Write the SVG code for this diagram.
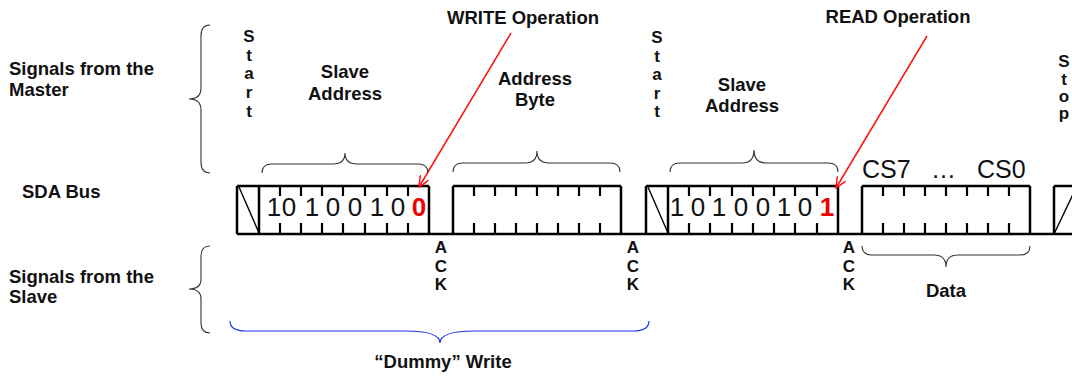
<svg xmlns="http://www.w3.org/2000/svg" width="1072" height="376" viewBox="0 0 1072 376">
<defs>
<style>
.lbl{font-family:"Liberation Sans",Arial,sans-serif;font-weight:bold;font-size:18.5px;fill:#111}
.ltr{font-family:"Liberation Sans",Arial,sans-serif;font-weight:bold;font-size:17px;fill:#111;text-anchor:middle}
.bit{font-family:"Liberation Sans",Arial,sans-serif;font-size:26px;fill:#111;text-anchor:middle}
.rbit{font-family:"Liberation Sans",Arial,sans-serif;font-size:26px;font-weight:bold;fill:#ee0000;text-anchor:middle}
.cs{font-family:"Liberation Sans",Arial,sans-serif;font-size:25px;fill:#111}
.bus{stroke:#000;stroke-width:2.5;fill:none}
.tick{stroke:#000;stroke-width:2.2;fill:none}
.diag{stroke:#000;stroke-width:1.4;fill:none}
.brace{stroke:#333;stroke-width:1.1;fill:none}
.bbrace{stroke:#2233ee;stroke-width:1.2;fill:none}
.red{stroke:#ff1111;stroke-width:1.5;fill:none}
</style>
<marker id="ah" viewBox="0 0 12 10" refX="11" refY="5" markerWidth="12" markerHeight="10" markerUnits="userSpaceOnUse" orient="auto">
<path d="M0,0 L11,5 L0,10" fill="none" stroke="#ff1111" stroke-width="1.5"/>
</marker>
</defs>

<g id="labels">
<text class="lbl" x="9" y="75">Signals from the</text>
<text class="lbl" x="9" y="96">Master</text>
<text class="lbl" x="22" y="198">SDA Bus</text>
<text class="lbl" x="9" y="283">Signals from the</text>
<text class="lbl" x="9" y="303">Slave</text>
</g>

<g id="start1">
<text class="ltr" x="249" y="42">S</text><text class="ltr" x="249" y="61">t</text><text class="ltr" x="249" y="79">a</text><text class="ltr" x="249" y="98">r</text><text class="ltr" x="249" y="117">t</text>
</g>
<g id="start2">
<text class="ltr" x="657" y="43">S</text><text class="ltr" x="657" y="62">t</text><text class="ltr" x="657" y="80">a</text><text class="ltr" x="657" y="99">r</text><text class="ltr" x="657" y="117">t</text>
</g>
<g id="stop">
<text class="ltr" x="1064" y="67">S</text><text class="ltr" x="1064" y="85">t</text><text class="ltr" x="1064" y="102">o</text><text class="ltr" x="1064" y="119">p</text>
</g>

<g id="slave-address-1">
<text class="lbl" x="345" y="78" text-anchor="middle">Slave</text>
<text class="lbl" x="345" y="100" text-anchor="middle">Address</text>
</g>
<g id="address-byte">
<text class="lbl" x="535" y="85" text-anchor="middle">Address</text>
<text class="lbl" x="535" y="106" text-anchor="middle">Byte</text>
</g>
<g id="slave-address-2">
<text class="lbl" x="742" y="91" text-anchor="middle">Slave</text>
<text class="lbl" x="742" y="112" text-anchor="middle">Address</text>
</g>
<g id="write-op"><text class="lbl" x="523" y="24" text-anchor="middle">WRITE Operation</text></g>
<g id="read-op"><text class="lbl" x="898" y="23" text-anchor="middle">READ Operation</text></g>

<g id="ack1"><text class="ltr" x="441" y="253">A</text><text class="ltr" x="441" y="272">C</text><text class="ltr" x="441" y="290">K</text></g>
<g id="ack2"><text class="ltr" x="633" y="253">A</text><text class="ltr" x="633" y="272">C</text><text class="ltr" x="633" y="290">K</text></g>
<g id="ack3"><text class="ltr" x="849" y="253">A</text><text class="ltr" x="849" y="272">C</text><text class="ltr" x="849" y="290">K</text></g>

<g id="data-label"><text class="lbl" x="946" y="297" text-anchor="middle">Data</text></g>
<g id="dummy-label"><text class="lbl" x="443" y="368" text-anchor="middle">“Dummy” Write</text></g>

<g id="sda-bus">
<path class="bus" d="M237,234 H1072"/>
<path class="bus" d="M237,186 H429 M453,186 H621 M646,186 H838 M862,186 H1030 M1054,186 H1072"/>
<path class="bus" d="M237,186 V234 M259,186 V234 M429,186 V234 M453,186 V234 M621,186 V234 M646,186 V234 M668,186 V234 M838,186 V234 M862,186 V234 M1030,186 V234 M1054,186 V234"/>
<path class="tick" d="M280,186 v10 M301,186 v10 M322,186 v10 M343,186 v10 M365,186 v10 M387,186 v10 M408,186 v10 M280,234 v-11 M301,234 v-11 M322,234 v-11 M343,234 v-11 M365,234 v-11 M387,234 v-11 M408,234 v-11"/>
<path class="tick" d="M474,186 v10 M495,186 v10 M516,186 v10 M537,186 v10 M558,186 v10 M579,186 v10 M600,186 v10 M474,234 v-11 M495,234 v-11 M516,234 v-11 M537,234 v-11 M558,234 v-11 M579,234 v-11 M600,234 v-11"/>
<path class="tick" d="M689,186 v10 M710,186 v10 M732,186 v10 M753,186 v10 M774,186 v10 M795,186 v10 M817,186 v10 M689,234 v-11 M710,234 v-11 M732,234 v-11 M753,234 v-11 M774,234 v-11 M795,234 v-11 M817,234 v-11"/>
<path class="tick" d="M883,186 v10 M904,186 v10 M925,186 v10 M946,186 v10 M967,186 v10 M988,186 v10 M1009,186 v10 M883,234 v-11 M904,234 v-11 M925,234 v-11 M946,234 v-11 M967,234 v-11 M988,234 v-11 M1009,234 v-11"/>
<path class="diag" d="M239,187 L259,233 M648,187 L668,233 M1054,234 L1077,186"/>
</g>

<g id="bits-1">
<text class="bit" x="274" y="216">1</text><text class="bit" x="289" y="216">0</text><text class="bit" x="312" y="216">1</text><text class="bit" x="333" y="216">0</text><text class="bit" x="355" y="216">0</text><text class="bit" x="377" y="216">1</text><text class="bit" x="398" y="216">0</text><text class="rbit" x="419" y="216">0</text>
</g>
<g id="bits-2">
<text class="bit" x="677" y="216">1</text><text class="bit" x="698" y="216">0</text><text class="bit" x="719" y="216">1</text><text class="bit" x="741" y="216">0</text><text class="bit" x="763" y="216">0</text><text class="bit" x="784" y="216">1</text><text class="bit" x="805" y="216">0</text><text class="rbit" x="827" y="216">1</text>
</g>
<g id="cs-label">
<text class="cs" x="862" y="178">CS7</text>
<text class="cs" x="931" y="178">…</text>
<text class="cs" x="977" y="178">CS0</text>
</g>

<g id="connectors">
<path class="red" d="M511,33 L419,187" marker-end="url(#ah)"/>
<path class="red" d="M927,36 L836,188" marker-end="url(#ah)"/>
<path class="brace" d="M210,25 Q201,25 201,36 L201,88 Q201,99 189,99 Q201,99 201,110 L201,162 Q201,173 210,173"/>
<path class="brace" d="M210,246 Q201,246 201,256 L201,279 Q201,289 189,289 Q201,289 201,299 L201,323 Q201,333 210,333"/>
<path class="brace" d="M262,173 Q262,164 272,164 L333,164 Q345,164 345,153 Q345,164 357,164 L418,164 Q428,164 428,173"/>
<path class="brace" d="M453,172 Q453,163 463,163 L525,163 Q537,163 537,151 Q537,163 549,163 L610,163 Q620,163 620,172"/>
<path class="brace" d="M670,172 Q670,163 680,163 L742,163 Q754,163 754,150 Q754,163 766,163 L828,163 Q838,163 838,172"/>
<path class="brace" d="M862,246 Q862,255 872,255 L934,255 Q946,255 946,267 Q946,255 958,255 L1020,255 Q1030,255 1030,246"/>
<path class="bbrace" d="M230,321 Q230,331 246,331 L405,331 Q440,331 440,343 Q440,331 475,331 L633,331 Q649,331 649,321"/>
</g>
</svg>
